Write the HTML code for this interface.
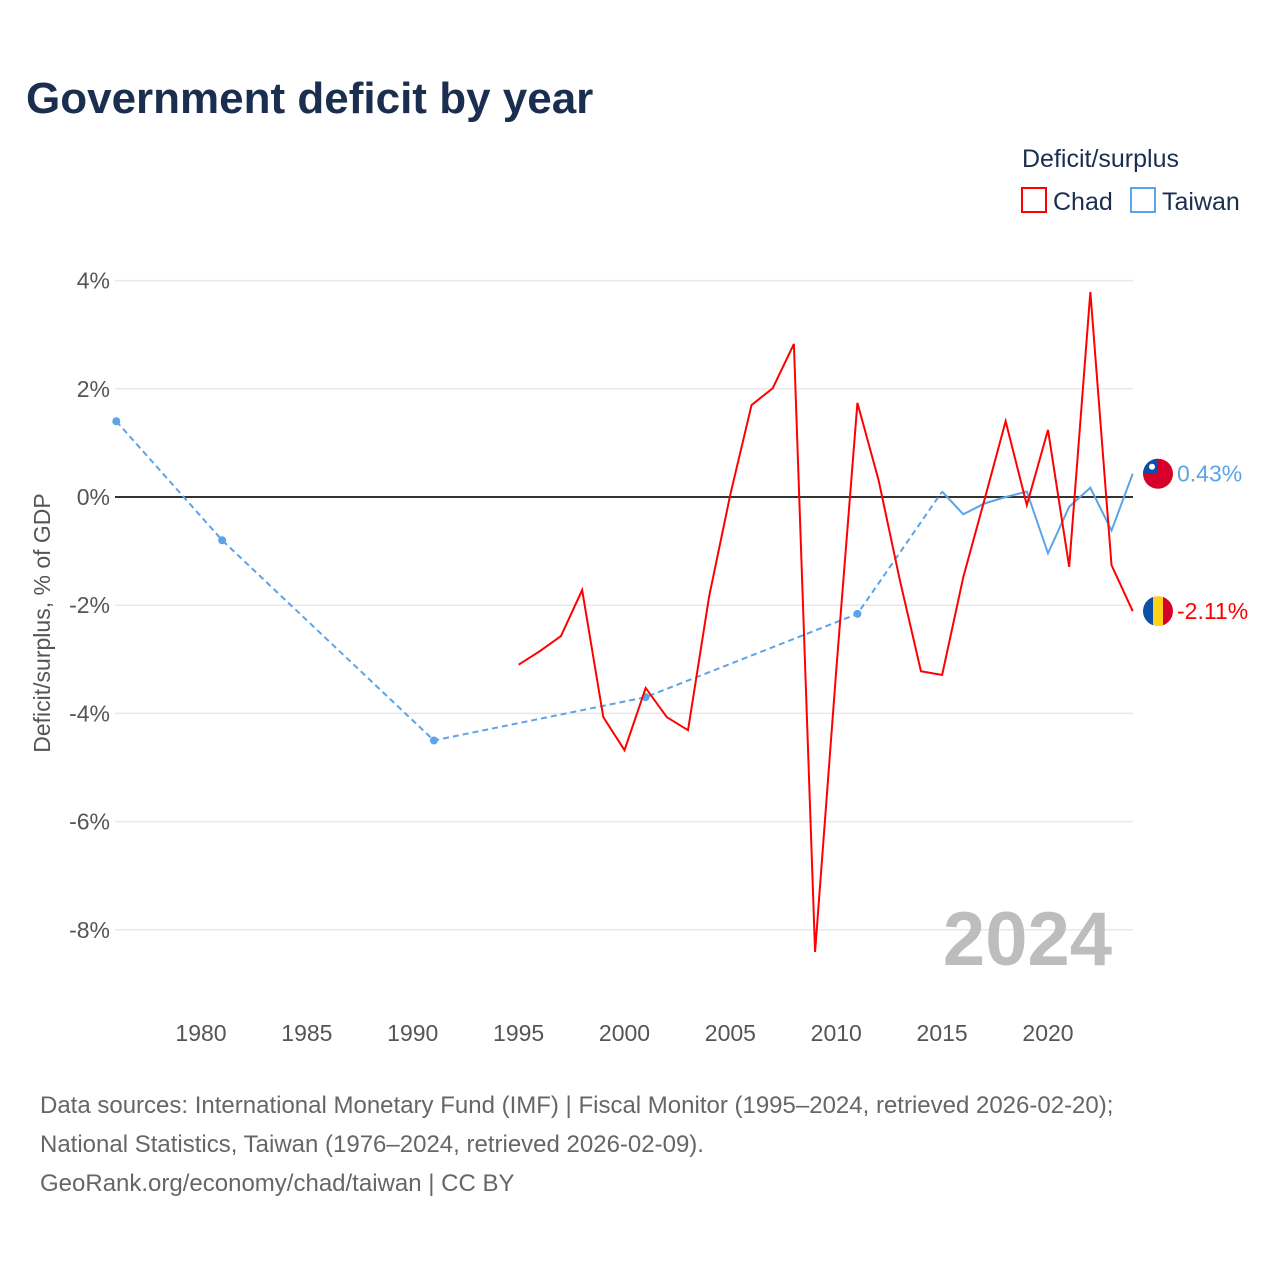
<!DOCTYPE html>
<html><head><meta charset="utf-8"><style>
body{margin:0;background:#fff;}
svg text{font-family:"Liberation Sans",sans-serif;}
</style></head><body>
<svg id="chart" width="1280" height="1280" xmlns="http://www.w3.org/2000/svg">
<text x="26" y="113" font-size="44" font-weight="bold" fill="#1a2e4f">Government deficit by year</text>
<text x="1022" y="167" font-size="25" fill="#1a2e4f">Deficit/surplus</text>
<g><rect x="1022" y="188" width="24" height="24" fill="none" stroke="#ff0000" stroke-width="2"/><text x="1053" y="210" font-size="25" fill="#1a2e4f">Chad</text></g>
<g><rect x="1131" y="188" width="24" height="24" fill="none" stroke="#5ba4e8" stroke-width="2"/><text x="1162" y="210" font-size="25" fill="#1a2e4f">Taiwan</text></g>
<g id="grid"></g>
<text transform="translate(50,623) rotate(-90)" text-anchor="middle" font-size="23" fill="#555">Deficit/surplus, % of GDP</text>
<text x="1112" y="965" text-anchor="end" font-size="76" font-weight="bold" fill="#bdbdbd">2024</text>
<g id="marks"></g>
<text font-size="24" fill="#666"><tspan x="40" y="1113">Data sources: International Monetary Fund (IMF) | Fiscal Monitor (1995–2024, retrieved 2026-02-20);</tspan><tspan x="40" y="1152">National Statistics, Taiwan (1976–2024, retrieved 2026-02-09).</tspan><tspan x="40" y="1191">GeoRank.org/economy/chad/taiwan | CC BY</tspan></text>
</svg>
<script>
const yTicks=[4,2,0,-2,-4,-6,-8];
const xTicks=[1980,1985,1990,1995,2000,2005,2010,2015,2020];
const chadYears=[1995,1996,1997,1998,1999,2000,2001,2002,2003,2004,2005,2006,2007,2008,2009,2010,2011,2012,2013,2014,2015,2016,2017,2018,2019,2020,2021,2022,2023,2024];
const chadValues=[-3.1,-2.85,-2.57,-1.72,-4.07,-4.68,-3.53,-4.07,-4.31,-1.83,0.05,1.7,2.01,2.83,-8.41,-3.2,1.74,0.31,-1.53,-3.22,-3.29,-1.48,-0.05,1.4,-0.15,1.24,-1.29,3.79,-1.26,-2.11];
const twSparseYears=[1976,1981,1991,2001,2011,2015];
const twSparseValues=[1.4,-0.8,-4.5,-3.7,-2.16,0.1];
const twYears=[2015,2016,2017,2018,2019,2020,2021,2022,2023,2024];
const twValues=[0.1,-0.32,-0.12,0.0,0.1,-1.04,-0.18,0.17,-0.62,0.43];
const X=y=>201+(y-1980)*21.175;
const Y=v=>497-v*54.1;
const NS="http://www.w3.org/2000/svg";
function mk(t,a,p){const e=document.createElementNS(NS,t);for(const k in a)e.setAttribute(k,a[k]);p.appendChild(e);return e;}
const g=document.getElementById('grid'),m=document.getElementById('marks');
yTicks.forEach(v=>{
 const l=mk('line',{x1:115,x2:1133,y1:Y(v),y2:Y(v),stroke:v===0?'#333':'#e8e8e8','stroke-width':v===0?2:1.5},g);
 
 
 const t=mk('text',{x:110,y:Y(v)+8,'text-anchor':'end','font-size':23,fill:'#555'},g);
 t.textContent=v+'%';
 
 
});
xTicks.forEach(y=>{
 const t=mk('text',{x:X(y),y:1041,'text-anchor':'middle','font-size':23,fill:'#555'},g);
 t.textContent=y;
 
 
});
const pts=(ys,vs)=>ys.map((y,i)=>X(y)+','+Y(vs[i])).join(' ');
const td=mk('polyline',{points:pts(twSparseYears,twSparseValues),fill:'none',stroke:'#5ba4e8','stroke-width':2,'stroke-dasharray':'6,4'},m);


twSparseYears.slice(0,5).forEach((y,i)=>{
 const c=mk('circle',{cx:X(y),cy:Y(twSparseValues[i]),r:4,fill:'#5ba4e8'},m);
 
 
});
const tl=mk('polyline',{points:pts(twYears,twValues),fill:'none',stroke:'#5ba4e8','stroke-width':2},m);


const cl=mk('polyline',{points:pts(chadYears,chadValues),fill:'none',stroke:'#ff0000','stroke-width':2},m);


// end flags and labels
const twV=twValues[twValues.length-1],chV=chadValues[chadValues.length-1];
const f1=mk('g',{},m);


mk('circle',{cx:1158,cy:Y(twV),r:15,fill:'#d6002a'},f1);
mk('path',{d:`M1143,${Y(twV)} A15,15 0 0 1 1158,${Y(twV)-15} L1158,${Y(twV)} Z`,fill:'#0a4fa8'},f1);
mk('circle',{cx:1152,cy:Y(twV)-7,r:3,fill:'#fff'},f1);
const f2=mk('g',{},m);


mk('clipPath',{id:'cc'},f2);
mk('circle',{cx:1158,cy:Y(chV),r:15},document.getElementById('cc'));
mk('rect',{x:1143,y:Y(chV)-15,width:10,height:30,fill:'#0a4fa8','clip-path':'url(#cc)'},f2);
mk('rect',{x:1153,y:Y(chV)-15,width:10,height:30,fill:'#fcd116','clip-path':'url(#cc)'},f2);
mk('rect',{x:1163,y:Y(chV)-15,width:10,height:30,fill:'#d6002a','clip-path':'url(#cc)'},f2);
const l1=mk('text',{x:1177,y:Y(twV)+8,'font-size':23,fill:'#5ba4e8'},m);
l1.textContent=twV.toFixed(2)+'%';


const l2=mk('text',{x:1177,y:Y(chV)+8,'font-size':23,fill:'#ff0000'},m);
l2.textContent=chV.toFixed(2)+'%';


</script>
</body></html>
